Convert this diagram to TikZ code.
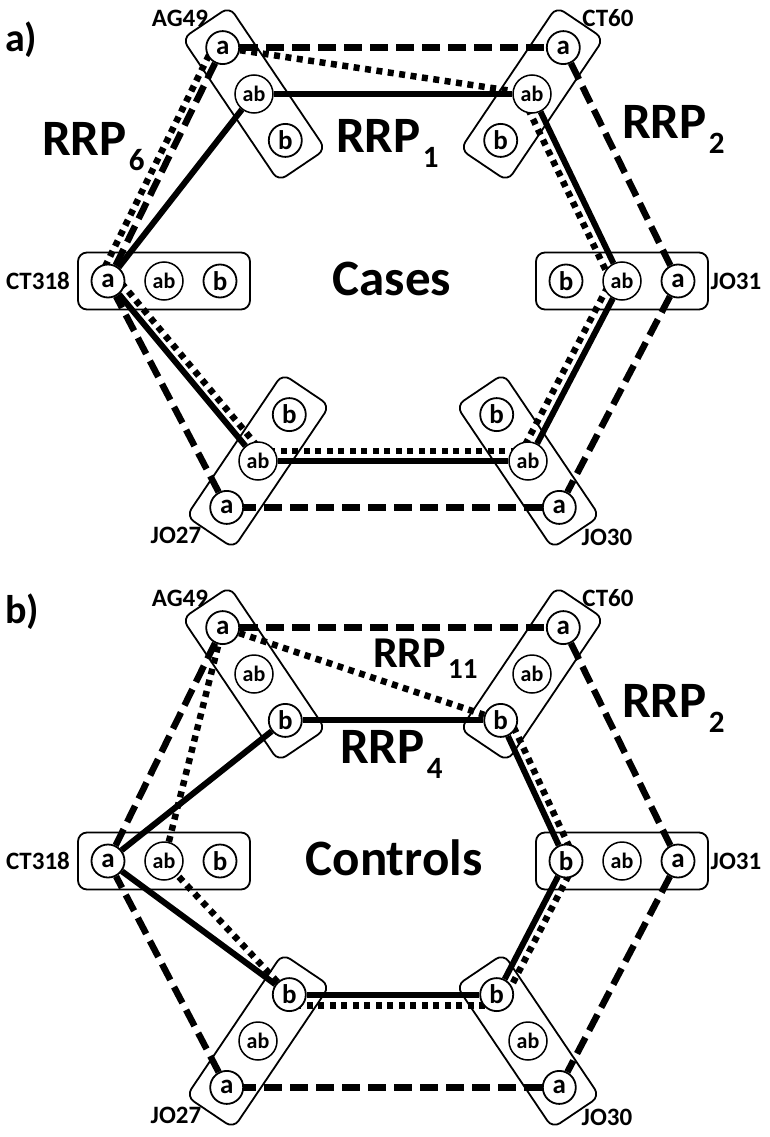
\documentclass[tikz,border=0pt]{standalone}
\usepackage{fontspec}
\setmainfont{Carlito}
\usetikzlibrary{calc}
\pgfdeclarelayer{lines}
\pgfsetlayers{lines,main}
\tikzset{
 grp/.style={draw, line width=1.8pt, rounded corners=9pt, minimum width=172pt, minimum height=57pt, inner sep=0pt},
 al/.style={circle, draw, fill=white, line width=1.8pt, minimum size=33pt, inner sep=0pt, font=\fontsize{27}{27}\selectfont\bfseries},
 abl/.style={circle, draw, fill=white, line width=1.5pt, minimum size=38pt, inner sep=0pt, font=\fontsize{22}{22}\selectfont\bfseries},
 solidl/.style={line width=6pt},
 dashl/.style={line width=6.5pt, dash pattern=on 18pt off 8pt},
 dotl/.style={line width=6.5pt, dash pattern=on 6pt off 5.5pt},
 lbl/.style={font=\fontsize{25}{25}\selectfont\bfseries, inner sep=0pt},
 big/.style={font=\fontsize{51}{51}\selectfont\bfseries, inner sep=0pt},
 panel/.style={font=\fontsize{40}{40}\selectfont\bfseries, inner sep=0pt},
}
\newcommand\sbx[1]{\kern2pt\raisebox{-15pt}{\fontsize{31}{31}\selectfont #1}}
\newcommand\hexboxes[1]{%
 \node[grp, rotate=-56] (#1AG) at (254,-94) {};
 \node[al] (#1AGa) at (222.7,-47.6) {a};
 \node[abl] (#1AGab) at (254,-94) {ab};
 \node[al] (#1AGb) at (285.3,-140.4) {b};
 \node[grp, rotate=56] (#1CT) at (532,-94) {};
 \node[al] (#1CTa) at (563.3,-47.6) {a};
 \node[abl] (#1CTab) at (532,-94) {ab};
 \node[al] (#1CTb) at (500.7,-140.4) {b};
 \node[grp] (#1CS) at (164,-281) {};
 \node[al] (#1CSa) at (108,-281) {a};
 \node[abl] (#1CSab) at (164,-281) {ab};
 \node[al] (#1CSb) at (220,-281) {b};
 \node[grp] (#1JA) at (622,-281) {};
 \node[al] (#1JAb) at (566,-281) {b};
 \node[abl] (#1JAab) at (622,-281) {ab};
 \node[al] (#1JAa) at (678,-281) {a};
 \node[grp, rotate=56] (#1JB) at (258,-461) {};
 \node[al] (#1JBb) at (289.3,-414.6) {b};
 \node[abl] (#1JBab) at (258,-461) {ab};
 \node[al] (#1JBa) at (226.7,-507.4) {a};
 \node[grp, rotate=-56] (#1JC) at (528,-461) {};
 \node[al] (#1JCb) at (496.7,-414.6) {b};
 \node[abl] (#1JCab) at (528,-461) {ab};
 \node[al] (#1JCa) at (559.3,-507.4) {a};
 \node[lbl] (#1lAG) at (180,-18) {AG49};
 \node[lbl] (#1lCT) at (608,-18) {CT60};
 \node[lbl] (#1lCS) at (38,-281) {CT318};
 \node[lbl] (#1lJA) at (736,-281) {JO31};
 \node[lbl] (#1lJB) at (176,-535) {JO27};
 \node[lbl] (#1lJC) at (607,-537) {JO30};
 \begin{pgfonlayer}{lines}
 \draw[dashl] (#1AGa) -- (#1CTa);
 \draw[dashl] (#1CTa) -- (#1JAa);
 \draw[dashl] (#1JAa) -- (#1JCa);
 \draw[dashl] (#1JCa) -- (#1JBa);
 \draw[dashl] (#1JBa) -- (#1CSa);
 \draw[dashl] (#1CSa) -- (#1AGa);
 \end{pgfonlayer}
}
\begin{document}
\begin{tikzpicture}[x=1pt,y=1pt]
\useasboundingbox (0,0) rectangle (770,-1137);
% ---------- panel a
\begin{scope}
\hexboxes{p}
\begin{pgfonlayer}{lines}
 \draw[solidl] (pAGab) -- (pCTab);
 \draw[solidl] (pCTab) -- (pJAab);
 \draw[solidl] (pJAab) -- (pJCab);
 \draw[solidl] (pJCab) -- (pJBab);
 \draw[solidl] (pJBab) -- (pCSa);
 \draw[solidl] (pCSa) -- (pAGab);
 \draw[dotl] (pAGa) -- (pCTab);
 \draw[dotl] ($(pCTab)!10pt!-90:(pJAab)$) -- ($(pJAab)!10pt!90:(pCTab)$);
 \draw[dotl] ($(pJAab)!10pt!-90:(pJCab)$) -- ($(pJCab)!10pt!90:(pJAab)$);
 \draw[dotl] ($(pJCab)!10pt!-90:(pJBab)$) -- ($(pJBab)!10pt!90:(pJCab)$);
 \draw[dotl] ($(pJBab)!9pt!-90:(pCSa)$) -- ($(pCSa)!9pt!90:(pJBab)$);
 \draw[dotl] ($(pCSa)!9pt!90:(pAGa)$) -- ($(pAGa)!9pt!-90:(pCSa)$);
\end{pgfonlayer}
\node[panel, anchor=west] (pa) at (5,-40) {a)};
\node[big, anchor=base west] (rrp6) at (42,-155) {RRP\sbx{6}};
\node[big, anchor=base west] (rrp1) at (336,-152) {RRP\sbx{1}};
\node[big, anchor=base west] (rrp2a) at (622,-139) {RRP\sbx{2}};
\node[big] (cases) at (392,-279) {Cases};
\end{scope}
% ---------- panel b
\begin{scope}[yshift=-580pt]
\hexboxes{q}
\begin{pgfonlayer}{lines}
 \draw[solidl] (qAGb) -- (qCTb);
 \draw[solidl] (qCTb) -- (qJAb);
 \draw[solidl] (qJAb) -- (qJCb);
 \draw[solidl] (qJCb) -- (qJBb);
 \draw[solidl] (qJBb) -- (qCSa);
 \draw[solidl] (qCSa) -- (qAGb);
 \draw[dotl] (qAGa) -- (qCTb);
 \draw[dotl] ($(qCTb)!9pt!90:(qJAb)$) -- ($(qJAb)!9pt!-90:(qCTb)$);
 \draw[dotl] ($(qJAb)!9pt!90:(qJCb)$) -- ($(qJCb)!9pt!-90:(qJAb)$);
 \draw[dotl] ($(qJCb)!11pt!90:(qJBb)$) -- ($(qJBb)!11pt!-90:(qJCb)$);
 \draw[dotl] (qJBb) -- (qCSab);
 \draw[dotl] (qCSab) -- (qAGa);
\end{pgfonlayer}
\node[panel, anchor=west] (pb) at (5,-32) {b)};
\node[big, font=\fontsize{44}{44}\selectfont\bfseries, anchor=base west] (rrp11) at (373,-87) {RRP\kern2pt\raisebox{-11pt}{\fontsize{29}{29}\selectfont 11}};
\node[big, anchor=base west] (rrp4) at (340,-183) {RRP\sbx{4}};
\node[big, anchor=base west] (rrp2b) at (622,-137) {RRP\sbx{2}};
\node[big] (controls) at (394,-278) {Controls};
\end{scope}
\end{tikzpicture}
\end{document}
